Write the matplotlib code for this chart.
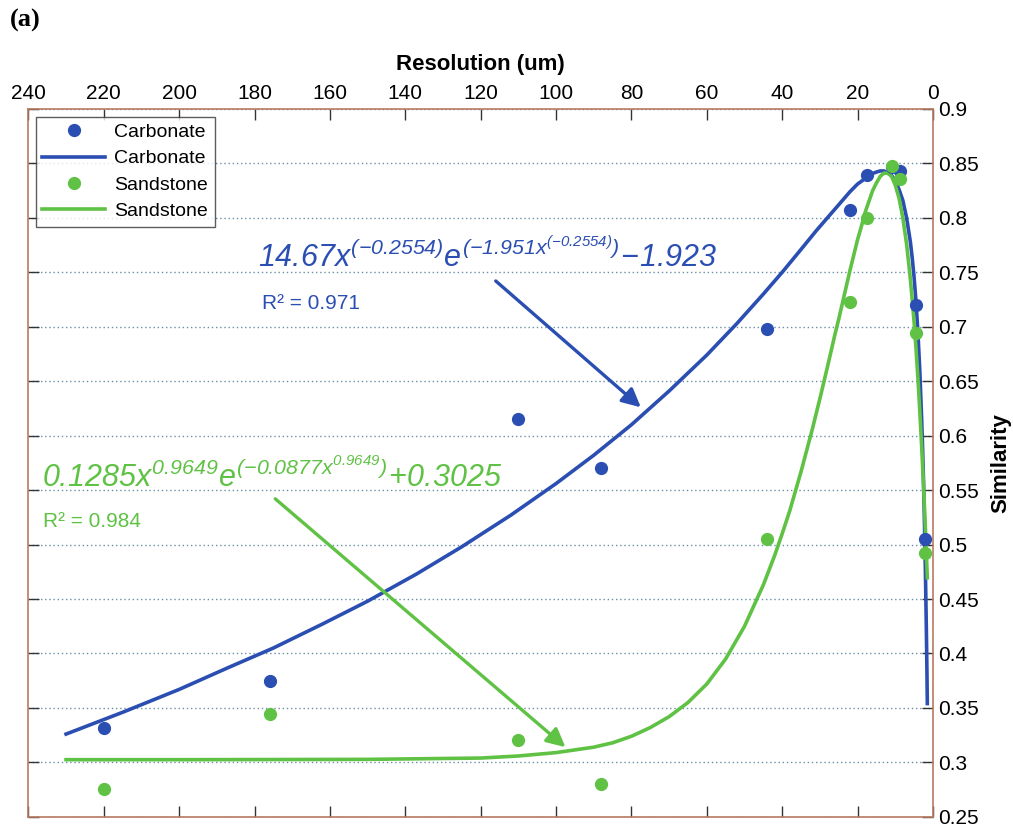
import numpy as np
import matplotlib.pyplot as plt

plt.rcParams['font.family'] = ['Liberation Sans', 'DejaVu Sans']
plt.rcParams['mathtext.fontset'] = 'custom'
plt.rcParams['mathtext.rm'] = 'Liberation Sans:italic'
plt.rcParams['mathtext.it'] = 'Liberation Sans:italic'

# measured points
res = [220, 176, 110, 88, 44, 22, 17.6, 11, 8.8, 4.4, 2.2]
carb = [0.332, 0.375, 0.615, 0.570, 0.698, 0.807, 0.839, 0.847, 0.843, 0.720, 0.505]
sand = [0.276, 0.344, 0.321, 0.280, 0.505, 0.723, 0.800, 0.848, 0.836, 0.694, 0.492]

# fitted curves
carb_fit_x = [230, 215, 200, 187, 175, 162, 150, 137, 125, 112, 100, 90, 80, 70, 60,
              52, 45, 40, 35, 31, 28, 25, 22, 20, 18, 16.5, 15, 14, 13, 12, 11, 10,
              9, 8, 7, 6, 5.5, 5, 4.5, 4, 3.5, 3, 2.75, 2.5, 2.25, 2, 1.75, 1.6, 1.5]
carb_fit_y = [0.326, 0.346, 0.367, 0.387, 0.405, 0.427, 0.448, 0.473, 0.498, 0.527,
              0.556, 0.582, 0.610, 0.641, 0.674, 0.703, 0.730, 0.750, 0.771, 0.788,
              0.800, 0.812, 0.824, 0.831, 0.836, 0.840, 0.842, 0.843, 0.843, 0.841,
              0.839, 0.834, 0.826, 0.816, 0.800, 0.778, 0.763, 0.745, 0.723, 0.695,
              0.660, 0.615, 0.588, 0.557, 0.519, 0.474, 0.421, 0.383, 0.354]
sand_fit_x = [230, 200, 150, 120, 110, 100, 90, 85, 80, 75, 70, 65, 60, 55, 50, 45,
              42, 40, 38, 35, 32, 30, 28, 26, 25, 24, 22, 20, 19, 18, 17, 16, 15, 14,
              13, 12, 11, 10, 9, 8, 7, 6, 5, 4.5, 4, 3.5, 3, 2.5, 2, 1.75, 1.5]
sand_fit_y = [0.3025, 0.3025, 0.3028, 0.304, 0.3059, 0.309, 0.314, 0.318, 0.324,
              0.332, 0.342, 0.355, 0.372, 0.395, 0.425, 0.463, 0.490, 0.510, 0.531,
              0.567, 0.606, 0.634, 0.663, 0.693, 0.707, 0.722, 0.752, 0.780, 0.792,
              0.805, 0.815, 0.825, 0.832, 0.838, 0.841, 0.841, 0.838, 0.830, 0.818,
              0.800, 0.776, 0.744, 0.704, 0.680, 0.653, 0.623, 0.590, 0.554, 0.514,
              0.492, 0.4695]

blue = '#2b4eb2'
green = '#5fc244'
frame = '#b97a62'

fig = plt.figure(figsize=(10.13, 8.31), dpi=100)
ax = fig.add_axes([0.028, 0.017, 0.893, 0.852])

ax.plot(res, carb, 'o', color=blue, ms=8.5, label='Carbonate', zorder=3)
ax.plot(carb_fit_x, carb_fit_y, '-', color=blue, lw=2.6, label='Carbonate', zorder=2)
ax.plot(res, sand, 'o', color=green, ms=8.5, label='Sandstone', zorder=3)
ax.plot(sand_fit_x, sand_fit_y, '-', color=green, lw=2.6, label='Sandstone', zorder=2)

ax.set_xlim(240, 0)
ax.set_ylim(0.25, 0.9)
ax.set_xticks(np.arange(0, 241, 20))
ax.set_yticks(np.arange(0.25, 0.901, 0.05))
ax.set_yticklabels(['0.25', '0.3', '0.35', '0.4', '0.45', '0.5', '0.55', '0.6',
                    '0.65', '0.7', '0.75', '0.8', '0.85', '0.9'])
ax.xaxis.tick_top()
ax.xaxis.set_label_position('top')
ax.yaxis.tick_right()
ax.yaxis.set_label_position('right')
ax.tick_params(axis='both', direction='in', length=8, width=1, color='#333333',
               labelsize=15, top=True, bottom=True, left=True, right=True)
ax.tick_params(axis='x', pad=4)
ax.tick_params(axis='y', pad=4)
ax.set_xlabel('Resolution (um)', fontsize=16, fontweight='bold', labelpad=10)
ax.set_ylabel('Similarity', fontsize=16, fontweight='bold', labelpad=8)
for s in ax.spines.values():
    s.set_color(frame)
    s.set_linewidth(1.2)
ax.yaxis.grid(True, linestyle=(0, (1, 2)), color='#6a8fa8', lw=1)

leg = ax.legend(loc='upper left', fontsize=14, frameon=True, fancybox=False,
                borderpad=0.35, labelspacing=0.45, handlelength=3.2,
                handletextpad=0.5, borderaxespad=0,
                bbox_to_anchor=(0.008, 0.989))
leg.get_frame().set_edgecolor('#333333')
leg.get_frame().set_linewidth(1.0)

ax.text(179, 0.755,
        r'$14.67x^{(-0.2554)}e^{(-1.951x^{(-0.2554)})}\!-\!1.923$',
        color=blue, fontsize=22)
ax.text(178, 0.721, 'R² = 0.971', color=blue, fontsize=15, va='center')
ax.annotate('', xy=(77.5, 0.626), xytext=(116, 0.742),
            arrowprops=dict(arrowstyle='-|>', color=blue, lw=2.4,
                            mutation_scale=28, shrinkA=0, shrinkB=0))

ax.text(236.5, 0.553,
        r'$0.1285x^{0.9649}e^{(-0.0877x^{0.9649})}\!+\!0.3025$',
        color=green, fontsize=22)
ax.text(236, 0.521, 'R² = 0.984', color=green, fontsize=15, va='center')
ax.annotate('', xy=(97.5, 0.314), xytext=(174.5, 0.542),
            arrowprops=dict(arrowstyle='-|>', color=green, lw=2.4,
                            mutation_scale=28, shrinkA=0, shrinkB=0))

fig.text(0.010, 0.975, '(a)', fontsize=19, fontweight='bold',
         family='Liberation Serif', va='center')

fig.savefig('out.png', dpi=100)
